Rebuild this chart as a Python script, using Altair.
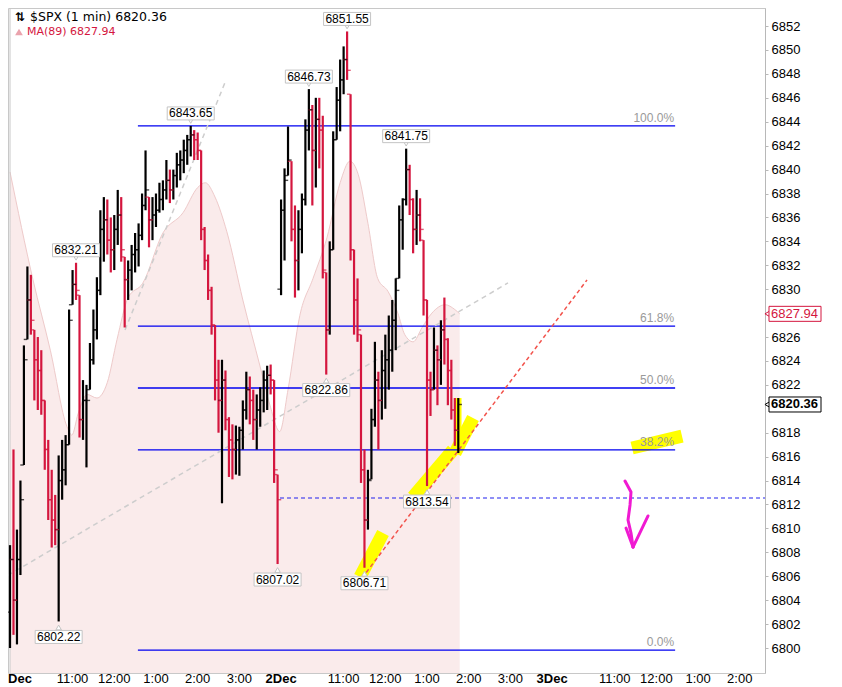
import altair as alt
import pandas as pd

# ---------------------------------------------------------------- data
# 5-minute OHLC bars. Bar k starts 5*k minutes after
# 09:30 on 1 Dec (one session = 390 minutes; bar 78 is the 2 Dec open).
bar_high = [
    6808.6, 6816.6, 6809.9, 6814.0, 6825.3, 6831.9, 6831.2, 6826.6, 6826.0, 6824.9,
    6820.7, 6817.4, 6814.9, 6812.8, 6816.1, 6817.4, 6817.8, 6828.3, 6831.6, 6832.21,
    6829.5, 6822.4, 6822.0, 6825.5, 6828.3, 6831.0, 6836.6, 6837.7, 6837.5, 6836.0,
    6836.2, 6838.3, 6837.7, 6832.7, 6832.4, 6833.7, 6834.7, 6835.5, 6838.0, 6841.6,
    6837.7, 6837.7, 6838.0, 6838.9, 6839.1, 6840.8, 6840.0, 6840.0, 6841.4, 6841.6,
    6842.5, 6842.9, 6843.65, 6843.3, 6843.1, 6841.6, 6835.2, 6832.9, 6830.2, 6827.0,
    6824.1, 6824.1, 6823.2, 6819.3, 6818.7, 6818.6, 6818.5, 6820.7, 6823.1, 6822.7,
    6821.6, 6821.2, 6821.8, 6823.2, 6823.6, 6823.7, 6822.4, 6814.5,
    6837.5, 6840.1,
    6843.6, 6840.7, 6837.0, 6836.6, 6838.0, 6844.2, 6846.73, 6845.4, 6846.0, 6846.0,
    6844.5, 6831.4, 6834.0, 6843.2, 6846.9, 6849.2, 6850.3, 6851.55, 6846.3, 6833.3,
    6830.9, 6826.2, 6816.6, 6814.9, 6820.0, 6825.6, 6823.1, 6824.9, 6826.2, 6827.8,
    6829.1, 6830.9, 6837.0, 6837.6, 6841.75, 6840.4, 6837.6, 6838.3, 6837.6, 6834.1,
    6829.1, 6823.1, 6826.8, 6825.3, 6827.4, 6829.3, 6825.9, 6824.1, 6820.9, 6820.9,
]
bar_low = [
    6800.0, 6801.1, 6800.3, 6806.1, 6815.3, 6825.8, 6826.2, 6820.7, 6819.9, 6819.5,
    6814.9, 6810.7, 6808.4, 6808.6, 6802.22, 6812.4, 6813.6, 6817.0, 6828.7, 6829.1,
    6817.6, 6817.4, 6815.1, 6821.6, 6823.7, 6825.8, 6829.5, 6832.3, 6832.9, 6831.4,
    6831.6, 6833.7, 6832.3, 6826.8, 6829.1, 6829.9, 6831.4, 6831.9, 6834.1, 6836.6,
    6833.5, 6834.1, 6835.2, 6836.4, 6836.6, 6837.5, 6837.2, 6837.5, 6838.5, 6839.1,
    6839.7, 6840.4, 6841.1, 6840.8, 6840.8, 6834.1, 6831.6, 6829.1, 6826.2, 6820.7,
    6818.0, 6812.1, 6818.2, 6814.3, 6814.1, 6814.5, 6814.4, 6816.6, 6819.1, 6818.7,
    6817.4, 6816.6, 6818.5, 6819.7, 6819.9, 6821.2, 6813.8, 6807.02,
    6829.5, 6832.4,
    6839.5, 6834.0, 6829.3, 6829.9, 6833.0, 6837.0, 6841.6, 6837.0, 6838.5, 6840.1,
    6830.9, 6822.86, 6826.2, 6833.3, 6842.5, 6843.2, 6846.3, 6847.5, 6832.4, 6826.2,
    6825.6, 6813.8, 6806.71, 6809.9, 6814.1, 6818.5, 6816.6, 6819.1, 6820.0, 6821.6,
    6823.1, 6824.9, 6830.9, 6833.3, 6837.0, 6836.2, 6833.0, 6833.7, 6834.0, 6827.8,
    6813.54, 6819.4, 6821.6, 6820.3, 6822.0, 6823.7, 6820.3, 6819.1, 6816.9, 6816.3,
]
bar_close = [
    6807.4, 6804.0, 6807.4, 6812.4, 6824.1, 6829.1, 6827.4, 6824.1, 6823.2, 6820.7,
    6816.6, 6812.4, 6810.7, 6809.9, 6814.0, 6814.9, 6817.0, 6827.4, 6830.4, 6829.9,
    6819.1, 6820.7, 6820.7, 6824.1, 6826.6, 6829.9, 6835.0, 6835.8, 6834.1, 6833.3,
    6835.0, 6836.2, 6833.3, 6830.8, 6831.6, 6832.9, 6833.3, 6834.5, 6837.0, 6838.3,
    6835.8, 6836.2, 6836.6, 6837.5, 6838.3, 6839.1, 6838.3, 6839.5, 6840.4, 6840.8,
    6841.6, 6842.5, 6842.9, 6842.5, 6841.6, 6835.0, 6832.4, 6829.9, 6827.0, 6822.4,
    6820.7, 6822.4, 6819.1, 6817.4, 6816.6, 6817.4, 6818.2, 6819.9, 6821.6, 6820.7,
    6819.1, 6819.9, 6820.7, 6822.4, 6822.8, 6822.4, 6814.9, 6812.4,
    6836.6, 6839.1,
    6840.8, 6835.0, 6832.4, 6835.0, 6837.5, 6843.3, 6845.0, 6841.6, 6844.2, 6843.3,
    6831.6, 6826.6, 6833.3, 6842.5, 6845.8, 6847.5, 6849.2, 6848.3, 6833.3, 6829.1,
    6826.6, 6814.9, 6810.7, 6814.0, 6819.1, 6822.4, 6820.7, 6823.2, 6824.1, 6824.9,
    6827.4, 6829.9, 6835.8, 6837.5, 6840.0, 6837.5, 6835.0, 6836.2, 6835.0, 6829.1,
    6822.4, 6821.6, 6824.9, 6824.1, 6826.6, 6825.8, 6823.2, 6819.9, 6818.2, 6820.36,
]
session_first_bar = [0, 78]
session_open = [6803.0, 6830.0]

# MA(89)
ma_minute = [0, 33, 58, 82, 89, 98, 111, 125, 140, 154,
             170, 191, 220, 249, 270, 281, 295, 312, 335, 360,
             374, 388, 400, 417, 436, 456, 475, 489, 501, 515,
             529, 544, 558, 568, 580, 593, 607, 626, 640, 647]
ma_price = [6839.8, 6830.8, 6824.9, 6818.5, 6817.8, 6819.6, 6821.2, 6820.9, 6822.2, 6825.8,
            6829.3, 6830.5, 6834.7, 6836.4, 6838.5, 6838.9, 6837.7, 6834.8, 6829.1, 6823.5,
            6820.3, 6818.1, 6821.6, 6827.8, 6830.9, 6834.3, 6838.9, 6840.7, 6839.6, 6835.5,
            6830.9, 6829.8, 6828.0, 6826.2, 6825.6, 6826.8, 6828.0, 6828.7, 6828.3, 6827.94]

# Fibonacci retracement
fib_levels = [6843.65, 6826.91, 6821.74, 6816.57, 6799.83]
fib_labels = ["100.0%", "61.8%", "50.0%", "38.2%", "0.0%"]
fib_from = [184] * 5
fib_to = [957] * 5

# swing high / low labels
pivot_minutes = [70, 95, 260, 385, 430, 455, 485, 510, 570, 600]
pivot_prices = [6802.22, 6832.21, 6843.65, 6807.02, 6846.73, 6822.86, 6851.55, 6806.71, 6841.75, 6813.54]
pivot_kind = ["low", "high", "high", "low", "high", "low", "high", "low", "high", "low"]

# drawn lines
support_price = [6812.54]
support_from = [388.5]
support_to = [1086.3]

red_trend_minute = [506.5, 830.2]
red_trend_price = [6805.85, 6830.77]

grey_seg = ["a", "a", "b", "b"]
grey_minute = [165.5, 310.8, -14.4, 716.5]
grey_price = [6826.59, 6847.49, 6805.69, 6830.52]

yellow_seg = ["a", "a", "b", "b", "c", "c", "e", "e"]
yellow_minute = [503.6, 536.7, 579.9, 637.4, 640.3, 666.2, 895.0, 966.9]
yellow_price = [6805.94, 6809.62, 6812.62, 6816.56, 6816.3, 6819.23, 6816.72, 6817.72]
yellow_bar_minute = [644.6, 644.6]
yellow_bar_price = [6820.9, 6816.39]

arrow_seg = ["s"] * 6 + ["l", "l", "r", "r"]
arrow_minute = [884.9, 893.5, 892.1, 889.2, 893.5, 896.4, 886.3, 896.4, 918.0, 896.4]
arrow_price = [6813.96, 6813.04, 6811.96, 6810.70, 6809.61, 6808.44, 6810.03, 6808.44, 6811.04, 6808.44]

# axis labels
time_minutes = [90, 150, 210, 270, 330, 480, 540, 600, 660, 720, 870, 930, 990, 1050]
time_labels = ["11:00", "12:00", "1:00", "2:00", "3:00",
               "11:00", "12:00", "1:00", "2:00", "3:00",
               "11:00", "12:00", "1:00", "2:00"]
day_minutes = [390, 780]
day_labels = ["2Dec", "3Dec"]
first_day_minute = [0]
first_day_label = ["Dec"]
price_ticks = [v for v in range(6800, 6853, 2) if v not in (6820, 6828)]

last_price = [6820.36]
ma_last = [6827.94]

X_MIN, X_MAX = -2.9, 1086.3
Y_MIN, Y_MAX = 6797.91, 6853.51
W, H = 757, 665

# ---------------------------------------------------------------- frames
rows = []
for k in range(len(bar_close)):
    if k in session_first_bar:
        o = session_open[session_first_bar.index(k)]
    else:
        o = min(max(bar_close[k - 1], bar_low[k]), bar_high[k])
    rows.append(dict(minute=5 * k, open=o, high=bar_high[k], low=bar_low[k],
                     close=bar_close[k], dir="up" if bar_close[k] >= o else "down"))
bars = pd.DataFrame(rows)

ma = pd.DataFrame({"minute": ma_minute, "price": ma_price, "base": [Y_MIN] * len(ma_minute)})
fib = pd.DataFrame({"level": fib_levels, "label": fib_labels, "m1": fib_from, "m2": fib_to})
piv = pd.DataFrame({"minute": pivot_minutes, "price": pivot_prices, "kind": pivot_kind})
sup = pd.DataFrame({"price": support_price, "m1": support_from, "m2": support_to})
red = pd.DataFrame({"minute": red_trend_minute, "price": red_trend_price})
grey = pd.DataFrame({"seg": grey_seg, "minute": grey_minute, "price": grey_price})
yel = pd.DataFrame({"seg": yellow_seg, "minute": yellow_minute, "price": yellow_price})
yelv = pd.DataFrame({"minute": yellow_bar_minute, "price": yellow_bar_price})
arr = pd.DataFrame({"seg": arrow_seg, "minute": arrow_minute, "price": arrow_price,
                    "ord": list(range(len(arrow_seg)))})
tl = pd.DataFrame({"minute": time_minutes, "t": time_labels})
dl = pd.DataFrame({"minute": day_minutes, "t": day_labels})
fd = pd.DataFrame({"minute": first_day_minute, "t": first_day_label})
sep = pd.DataFrame({"minute": first_day_minute})
tag_last = pd.DataFrame({"price": last_price, "t": [f"{v:.2f}" for v in last_price]})
tag_ma = pd.DataFrame({"price": ma_last, "t": [f"{v:.2f}" for v in ma_last]})

xs = alt.Scale(domain=[X_MIN, X_MAX], nice=False, zero=False)
ys = alt.Scale(domain=[Y_MIN, Y_MAX], nice=False, zero=False)
yaxis = alt.Axis(orient="right", values=price_ticks, title=None, grid=False, format="d",
                 labelFont="Liberation Sans", labelFontSize=13, labelColor="#000000",
                 domainColor="#b8b8b8", tickColor="#b8b8b8", tickSize=3,
                 labelPadding=3, zindex=0)


def X(f):
    return alt.X(f, type="quantitative", scale=xs, axis=None)


def Y(f):
    return alt.Y(f, type="quantitative", scale=ys, axis=yaxis)


RED = "#d4163e"
layers = []

# MA(89) shaded area
layers.append(alt.Chart(ma).mark_area(color="#f8e3e3", interpolate="monotone",
                                      line={"color": "#eecaca", "strokeWidth": 1})
              .encode(x=X("minute"), y=Y("price"), y2=alt.Y2("base")))
# session start separator
layers.append(alt.Chart(sep).mark_rule(color="#c8c8c8", strokeWidth=1).encode(x=X("minute")))
# yellow highlighter strokes
layers.append(alt.Chart(yel).mark_line(color="#ffff00", strokeWidth=13, strokeCap="butt")
              .encode(x=X("minute"), y=Y("price"), detail="seg:N"))
layers.append(alt.Chart(yelv).mark_line(color="#ffff00", strokeWidth=7, strokeCap="butt")
              .encode(x=X("minute"), y=Y("price")))
# fib lines + labels
layers.append(alt.Chart(fib).mark_rule(color="#0000f0", strokeWidth=1.3)
              .encode(x=X("m1"), x2=alt.X2("m2"), y=Y("level")))
layers.append(alt.Chart(fib).mark_text(align="right", baseline="middle", dy=-8, dx=-1,
                                       font="Liberation Sans", fontSize=12, color="#9a9a9a")
              .encode(x=X("m2"), y=Y("level"), text="label:N"))
# grey dashed trend lines
layers.append(alt.Chart(grey).mark_line(color="#cdcdcd", strokeWidth=1.5, strokeDash=[5, 4], clip=True)
              .encode(x=X("minute"), y=Y("price"), detail="seg:N"))
# red dashed up trend
layers.append(alt.Chart(red).mark_line(color="#f2534c", strokeWidth=1.5, strokeDash=[4, 3])
              .encode(x=X("minute"), y=Y("price")))
# blue dashed support
layers.append(alt.Chart(sup).mark_rule(color="#2020ee", strokeWidth=1.2, strokeDash=[4, 3])
              .encode(x=X("m1"), x2=alt.X2("m2"), y=Y("price")))
# OHLC bars
col = alt.Color("dir:N", scale=alt.Scale(domain=["up", "down"], range=["#000000", RED]), legend=None)
layers.append(alt.Chart(bars).mark_rule(strokeWidth=2.2)
              .encode(x=X("minute"), y=Y("low"), y2=alt.Y2("high"), color=col))
layers.append(alt.Chart(bars).mark_tick(orient="horizontal", size=3.5, thickness=1.4, xOffset=-1.9)
              .encode(x=X("minute"), y=Y("open"), color=col))
layers.append(alt.Chart(bars).mark_tick(orient="horizontal", size=3.5, thickness=1.4, xOffset=1.9)
              .encode(x=X("minute"), y=Y("close"), color=col))

# pivot labels
hi = alt.Chart(piv).transform_filter(alt.datum.kind == "high")
lo = alt.Chart(piv).transform_filter(alt.datum.kind == "low")
for base, sh, toff, r1, r2, dy in [(hi, "triangle-down", -5, -19, -6, -12.5),
                                   (lo, "triangle-up", 6, 9, 22, 15.5)]:
    layers.append(base.mark_point(shape=sh, size=30, filled=True, fill="white", stroke="#c4c4c4",
                                  strokeWidth=1, opacity=1, yOffset=toff)
                  .encode(x=X("minute"), y=Y("price")))
    layers.append(base.mark_rect(fill="white", stroke="#c4c4c4", strokeWidth=1,
                                 xOffset=-23.5, x2Offset=23.5, yOffset=r1, y2Offset=r2)
                  .encode(x=X("minute"), x2=alt.X2("minute"), y=Y("price"), y2=alt.Y2("price")))
    layers.append(base.mark_text(baseline="middle", dy=dy, font="Liberation Sans", fontSize=12,
                                 color="#000000")
                  .encode(x=X("minute"), y=Y("price"), text=alt.Text("price:Q", format=".2f")))

# magenta hand drawn arrow
layers.append(alt.Chart(arr).mark_line(color="#f01ad2", strokeWidth=3, strokeCap="round",
                                       strokeJoin="round")
              .encode(x=X("minute"), y=Y("price"), detail="seg:N", order="ord:Q"))

# price tags on the right axis
for df, stroke, tcol, weight in [(tag_ma, RED, RED, "normal"), (tag_last, "#000000", "#000000", "bold")]:
    layers.append(alt.Chart(df).mark_point(shape="triangle-left", size=50, filled=True, fill="white",
                                           stroke=stroke, strokeWidth=1, opacity=1)
                  .encode(x=alt.value(760), y=Y("price")))
    layers.append(alt.Chart(df).mark_rect(fill="white", stroke=stroke, strokeWidth=1,
                                          yOffset=-7.5, y2Offset=7.5)
                  .encode(x=alt.value(761), x2=alt.value(813), y=Y("price"), y2=alt.Y2("price")))
    layers.append(alt.Chart(df).mark_text(align="left", baseline="middle", dx=0, font="Liberation Sans",
                                          fontSize=13, fontWeight=weight, color=tcol)
                  .encode(x=alt.value(763), y=Y("price"), text="t:N"))

# time axis labels
LY = 671
layers.append(alt.Chart(tl).mark_text(baseline="middle", font="Liberation Sans", fontSize=13,
                                      color="#000000")
              .encode(x=X("minute"), y=alt.value(LY), text="t:N"))
layers.append(alt.Chart(dl).mark_text(baseline="middle", font="Liberation Sans", fontSize=13,
                                      fontWeight="bold", color="#000000")
              .encode(x=X("minute"), y=alt.value(LY), text="t:N"))
layers.append(alt.Chart(fd).mark_text(align="left", baseline="middle", dx=-2, font="Liberation Sans",
                                      fontSize=13, fontWeight="bold", color="#000000")
              .encode(x=X("minute"), y=alt.value(LY), text="t:N"))

# legend text at top left
head = pd.DataFrame({"t": ["$SPX (1 min) 6820.36"]})
layers.append(alt.Chart(head).mark_text(align="left", baseline="middle", font="DejaVu Sans",
                                        fontSize=12.5, color="#000000")
              .encode(x=alt.value(22), y=alt.value(9), text="t:N"))
icon = pd.DataFrame({"t": ["⇅"]})
layers.append(alt.Chart(icon).mark_text(align="center", baseline="middle", font="DejaVu Sans",
                                        fontSize=12, fontWeight="bold", color="#000000")
              .encode(x=alt.value(12), y=alt.value(9), text="t:N"))
mahead = pd.DataFrame({"t": ["MA(89) 6827.94"]})
layers.append(alt.Chart(mahead).mark_text(align="left", baseline="middle", font="DejaVu Sans",
                                          fontSize=11, color=RED)
              .encode(x=alt.value(19), y=alt.value(24), text="t:N"))
layers.append(alt.Chart(mahead).mark_point(shape="triangle-up", size=60, filled=True,
                                           color="#eaa3ad", opacity=1)
              .encode(x=alt.value(11), y=alt.value(24)))

chart = alt.layer(*layers).properties(
    width=W, height=H,
    autosize=alt.AutoSizeParams(type="none"),
    padding={"left": 0, "top": 0, "right": 62, "bottom": 14},
).configure_view(stroke="#c8c8c8")

chart.save("out.html", embed_options={"renderer": "svg", "actions": False})
